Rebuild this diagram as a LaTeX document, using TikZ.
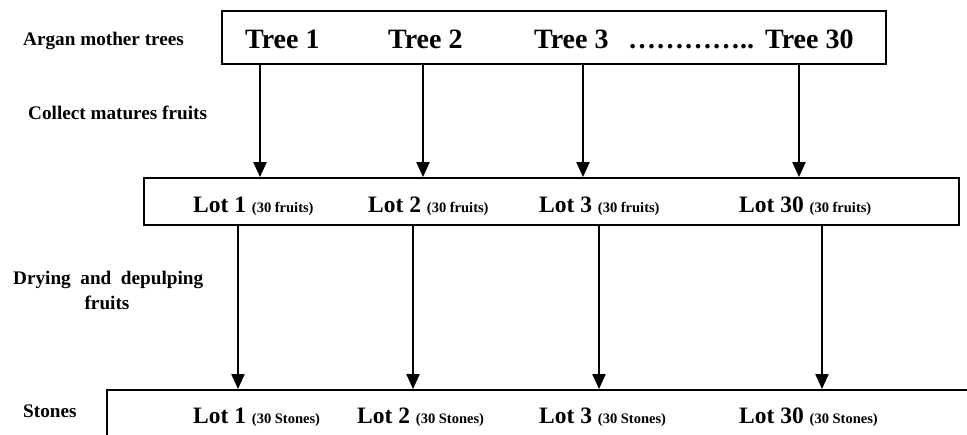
\documentclass[tikz,border=0pt]{standalone}
\usepackage{fontspec}
\setmainfont{Liberation Serif}
\usetikzlibrary{arrows.meta}
\newcommand{\lotnote}[1]{{\fontsize{14.5}{15}\selectfont #1}}
\tikzset{
  stagebox/.style={draw, line width=1.8pt, inner sep=0pt},
  flow/.style={line width=2pt, -{Triangle[length=15pt,width=13pt]}},
  steplabel/.style={font=\bfseries\fontsize{19.2}{21}\selectfont, inner sep=0pt},
  treetxt/.style={font=\bfseries\fontsize{28}{29}\selectfont, inner sep=0pt, anchor=base west},
  lottxt/.style={font=\bfseries\fontsize{23.5}{25}\selectfont, inner sep=0pt, anchor=base west}
}
\begin{document}
\begin{tikzpicture}[x=1pt, y=-1pt]
\clip (0,0) rectangle (967,434);
\fill[white] (0,0) rectangle (967,434);

% stage boxes
\node[stagebox, minimum width=664pt, minimum height=53pt] (trees) at (554,37.5) {};
\node[stagebox, minimum width=815pt, minimum height=47pt] (lots) at (551.5,201.5) {};
\node[stagebox, minimum width=900pt, minimum height=80pt] (stones) at (557,430) {};

% step labels on the left
\node[steplabel, anchor=base west] (lab1) at (23,45) {Argan mother trees};
\node[steplabel, anchor=base west] (lab2) at (28,119) {Collect matures fruits};
\node[steplabel, anchor=base west] (lab3) at (13,284) {Drying\hspace{0.5em}and\hspace{0.5em}depulping};
\node[steplabel, anchor=base] (lab3b) at (107,309) {fruits};
\node[steplabel, anchor=base west] (lab4) at (23,417) {Stones};

% trees
\node[treetxt] (t1) at (245,48) {Tree 1};
\node[treetxt] (t2) at (388,48) {Tree 2};
\node[treetxt] (t3) at (534,48) {Tree 3};
\node[treetxt] (tdots) at (628,48) {…………..};
\node[treetxt] (t30) at (765,48) {Tree 30};

% fruit lots
\node[lottxt] (f1) at (193,212) {Lot 1 \lotnote{(30 fruits)}};
\node[lottxt] (f2) at (368,212) {Lot 2 \lotnote{(30 fruits)}};
\node[lottxt] (f3) at (539,212) {Lot 3 \lotnote{(30 fruits)}};
\node[lottxt] (f30) at (739,212) {Lot 30 \lotnote{(30 fruits)}};

% stone lots
\node[lottxt] (s1) at (193,423) {Lot 1 \lotnote{(30 Stones)}};
\node[lottxt] (s2) at (357,423) {Lot 2 \lotnote{(30 Stones)}};
\node[lottxt] (s3) at (539,423) {Lot 3 \lotnote{(30 Stones)}};
\node[lottxt] (s30) at (739,423) {Lot 30 \lotnote{(30 Stones)}};

% arrow columns
\coordinate (a1) at (260,0);
\coordinate (a2) at (423,0);
\coordinate (a3) at (583,0);
\coordinate (a4) at (799,0);
\coordinate (b1) at (238,0);
\coordinate (b2) at (413,0);
\coordinate (b3) at (599,0);
\coordinate (b4) at (822,0);

\foreach \c in {a1,a2,a3,a4}
  \draw[flow] (trees.south -| \c) -- (lots.north -| \c);
\foreach \c in {b1,b2,b3,b4}
  \draw[flow] (lots.south -| \c) -- (stones.north -| \c);
\end{tikzpicture}
\end{document}
